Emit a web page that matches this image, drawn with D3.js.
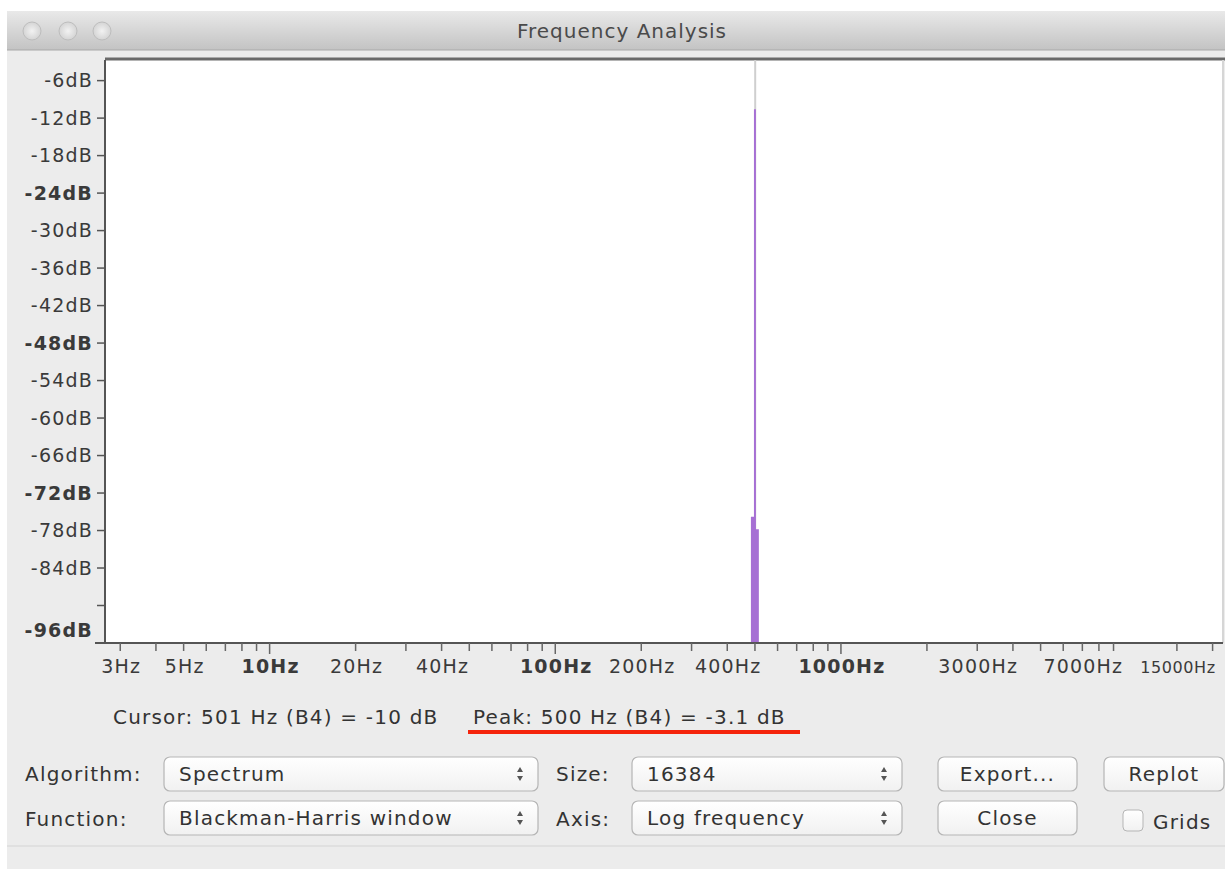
<!DOCTYPE html>
<html lang="en">
<head>
<meta charset="UTF-8">
<title>Frequency Analysis</title>
<script src="https://d3js.org/d3.v7.min.js"></script>
<style>
    body { margin: 0; background: #fff; }
    svg { display: block; font-family: 'DejaVu Sans', sans-serif; }
    .lbl { fill: #333; font-size: 20px; letter-spacing: 1.2px; }
    .tick-y { fill: #3a3a3a; font-size: 19px; letter-spacing: 1.2px; }
    .tick-x { fill: #3a3a3a; font-size: 19px; letter-spacing: 1.2px; }
</style>
</head>
<body>
<div id="chart"></div>
<script>
// --- data ---
const dbTicks = [-6, -12, -18, -24, -30, -36, -42, -48, -54, -60, -66, -72, -78, -84, -90, -96];
const dbBold = [-24, -48, -72, -96];
const hzLabels = [3, 5, 10, 20, 40, 100, 200, 400, 1000, 3000, 7000, 15000];
const hzBold = [10, 100, 1000];
const hzTicks = [3, 4, 5, 6, 7, 8, 9, 10, 20, 30, 40, 50, 60, 70, 80, 90, 100,
                 200, 300, 400, 500, 600, 700, 800, 900, 1000,
                 2000, 3000, 4000, 5000, 6000, 7000, 8000, 9000, 15000, 20000];

// spectrum bins around the 500 Hz tone (dB), everything else is below the floor
const binHz = [460, 484, 496, 504, 516, 530];
const binDb = [-120, -75.8, -10.6, -77.8, -120, -120];

const cursorHz = 501;
const cursorText = "Cursor: 501 Hz (B4) = -10 dB";
const peakText = "Peak: 500 Hz (B4) = -3.1 dB";

const W = 1225, H = 869;
const plot = {left: 105, right: 1223, top: 60, bottom: 643};

const svg = d3.select("#chart").append("svg")
    .attr("width", W).attr("height", H);

const defs = svg.append("defs");
const tg = defs.append("linearGradient").attr("id", "titlebar").attr("x1", 0).attr("y1", 0).attr("x2", 0).attr("y2", 1);
tg.append("stop").attr("offset", "0%").attr("stop-color", "#e9e9e9");
tg.append("stop").attr("offset", "100%").attr("stop-color", "#c3c3c3");
const bg = defs.append("linearGradient").attr("id", "btn").attr("x1", 0).attr("y1", 0).attr("x2", 0).attr("y2", 1);
bg.append("stop").attr("offset", "0%").attr("stop-color", "#ffffff");
bg.append("stop").attr("offset", "100%").attr("stop-color", "#f1f1f1");
const cg = defs.append("radialGradient").attr("id", "light");
cg.append("stop").attr("offset", "0%").attr("stop-color", "#f2f2f2");
cg.append("stop").attr("offset", "100%").attr("stop-color", "#d4d4d4");

// window body
svg.append("rect").attr("x", 7).attr("y", 11).attr("width", W - 7).attr("height", H - 11)
    .attr("fill", "#ececec");
svg.append("rect").attr("x", 7).attr("y", 11).attr("width", W - 7).attr("height", 39)
    .attr("fill", "url(#titlebar)");
svg.append("line").attr("x1", 7).attr("x2", W).attr("y1", 50).attr("y2", 50)
    .attr("stroke", "#a8a8a8");
[32, 68, 102].forEach(cx => {
    svg.append("circle").attr("cx", cx).attr("cy", 31).attr("r", 9)
        .attr("fill", "url(#light)").attr("stroke", "#bdbdbd");
});
svg.append("text").attr("x", 622).attr("y", 38).attr("text-anchor", "middle")
    .attr("fill", "#4a4a4a").style("font-size", "20px").style("letter-spacing", "1px")
    .text("Frequency Analysis");

// plot area
svg.append("rect").attr("x", plot.left).attr("y", plot.top)
    .attr("width", plot.right - plot.left).attr("height", plot.bottom - plot.top)
    .attr("fill", "#fff");
svg.append("line").attr("x1", plot.left).attr("x2", W).attr("y1", plot.top - 1).attr("y2", plot.top - 1)
    .attr("stroke", "#6a6a6a").attr("stroke-width", 3);
svg.append("line").attr("x1", plot.right).attr("x2", plot.right).attr("y1", plot.top).attr("y2", plot.bottom)
    .attr("stroke", "#d6d6d6").attr("stroke-width", 2);

const x = d3.scaleLog().domain([2.653, 21750]).range([plot.left, plot.right]);
const y = d3.scaleLinear().domain([-96, -2.7]).range([plot.bottom, plot.top]);

// cursor line
svg.append("line")
    .attr("x1", x(cursorHz)).attr("x2", x(cursorHz))
    .attr("y1", plot.top).attr("y2", plot.bottom)
    .attr("stroke", "#cfcfcf").attr("stroke-width", 2);

// spectrum
const area = d3.area()
    .x((d, i) => x(binHz[i]))
    .y0(plot.bottom)
    .y1(d => y(Math.max(d, -96)))
    .curve(d3.curveStepAfter);
svg.append("path").datum(binDb)
    .attr("d", area)
    .attr("fill", "#a66fd4");

// y axis
svg.append("line").attr("x1", plot.left).attr("x2", plot.left).attr("y1", plot.top).attr("y2", plot.bottom + 1)
    .attr("stroke", "#555").attr("stroke-width", 2);
const yAxis = svg.append("g");
yAxis.selectAll("line").data(dbTicks).enter().append("line")
    .attr("x1", 97).attr("x2", plot.left)
    .attr("y1", d => y(d)).attr("y2", d => y(d))
    .attr("stroke", "#555").attr("stroke-width", 1.5);
yAxis.selectAll("text").data(dbTicks.filter(d => d !== -90)).enter().append("text")
    .attr("class", "tick-y")
    .attr("x", 93)
    .attr("y", d => d === -96 ? y(d) - 13 : y(d))
    .attr("dy", "0.36em")
    .attr("text-anchor", "end")
    .style("font-weight", d => dbBold.includes(d) ? "bold" : "normal")
    .text(d => d + "dB");

// x axis
svg.append("line").attr("x1", plot.left - 10).attr("x2", plot.right).attr("y1", plot.bottom).attr("y2", plot.bottom)
    .attr("stroke", "#555").attr("stroke-width", 2);
const xAxis = svg.append("g");
xAxis.selectAll("line").data(hzTicks).enter().append("line")
    .attr("x1", d => x(d)).attr("x2", d => x(d))
    .attr("y1", plot.bottom)
    .attr("y2", d => hzBold.includes(d) ? plot.bottom + 11 : plot.bottom + 8)
    .attr("stroke", "#666").attr("stroke-width", 1.5);
xAxis.selectAll("text").data(hzLabels).enter().append("text")
    .attr("class", "tick-x")
    .attr("x", d => x(d) + 1)
    .attr("y", 673)
    .attr("text-anchor", "middle")
    .style("font-weight", d => hzBold.includes(d) ? "bold" : "normal")
    .style("font-size", d => d >= 10000 ? "16px" : null)
    .style("letter-spacing", d => d >= 10000 ? "0.6px" : null)
    .text(d => d + "Hz");

// cursor / peak readout
svg.append("text").attr("class", "lbl").attr("x", 113).attr("y", 724).text(cursorText);
svg.append("text").attr("class", "lbl").attr("x", 473).attr("y", 724).text(peakText);
svg.append("line").attr("x1", 468).attr("x2", 800).attr("y1", 732).attr("y2", 732)
    .attr("stroke", "#f5240c").attr("stroke-width", 4);

// controls
function combo(x0, x1, yTop, label) {
    const g = svg.append("g");
    g.append("rect").attr("x", x0).attr("y", yTop).attr("width", x1 - x0).attr("height", 34)
        .attr("rx", 6).attr("fill", "url(#btn)").attr("stroke", "#b5b5b5").attr("stroke-width", 1.2);
    g.append("text").attr("class", "lbl").attr("x", x0 + 15).attr("y", yTop + 24).text(label);
    const ax = x1 - 18, cy = yTop + 17;
    g.append("path").attr("d", `M${ax - 3},${cy - 2} L${ax + 3},${cy - 2} L${ax},${cy - 7} Z`).attr("fill", "#555");
    g.append("path").attr("d", `M${ax - 3},${cy + 2} L${ax + 3},${cy + 2} L${ax},${cy + 7} Z`).attr("fill", "#555");
}
function button(x0, x1, yTop, label) {
    svg.append("rect").attr("x", x0).attr("y", yTop).attr("width", x1 - x0).attr("height", 34)
        .attr("rx", 6).attr("fill", "url(#btn)").attr("stroke", "#b5b5b5").attr("stroke-width", 1.2);
    svg.append("text").attr("class", "lbl").attr("x", (x0 + x1) / 2).attr("y", yTop + 24)
        .attr("text-anchor", "middle").text(label);
}
svg.append("text").attr("class", "lbl").attr("x", 25).attr("y", 781).text("Algorithm:");
svg.append("text").attr("class", "lbl").attr("x", 25).attr("y", 826).text("Function:");
svg.append("text").attr("class", "lbl").attr("x", 556).attr("y", 781).text("Size:");
svg.append("text").attr("class", "lbl").attr("x", 556).attr("y", 826).text("Axis:");
combo(164, 538, 757, "Spectrum");
combo(164, 538, 801, "Blackman-Harris window");
combo(632, 902, 757, "16384");
combo(632, 902, 801, "Log frequency");
button(938, 1077, 757, "Export...");
button(938, 1077, 801, "Close");
button(1104, 1224, 757, "Replot");
svg.append("rect").attr("x", 1123).attr("y", 810).attr("width", 20).attr("height", 21)
    .attr("rx", 4).attr("fill", "url(#btn)").attr("stroke", "#b5b5b5");
svg.append("text").attr("class", "lbl").attr("x", 1153).attr("y", 829).text("Grids");

// bottom strip
svg.append("line").attr("x1", 7).attr("x2", W).attr("y1", 846).attr("y2", 846).attr("stroke", "#d4d4d4");
</script>
</body>
</html>
